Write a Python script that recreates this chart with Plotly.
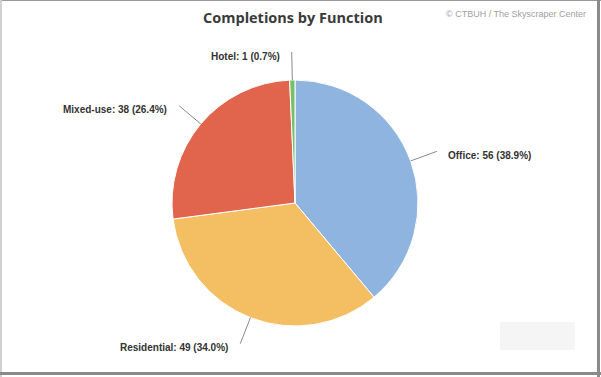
import math
import plotly.graph_objects as go

# ---- data ----
categories = ["Office", "Residential", "Mixed-use", "Hotel"]
counts = [56, 49, 38, 1]
colors = ["#8fb4e0", "#f4bf63", "#e0654c", "#78bf6a"]
title_text = "Completions by Function"
credit_text = "© CTBUH / The Skyscraper Center"

W, H = 601, 377
CX, CY, R = 295, 203, 123  # pie centre / radius in pixels


def px(x):
    return x / W


def py(y):
    return 1 - y / H


fig = go.Figure()
fig.add_trace(go.Pie(
    labels=categories,
    values=counts,
    sort=False,
    direction="clockwise",
    rotation=0,
    marker=dict(colors=colors, line=dict(color="#ffffff", width=1)),
    textinfo="none",
    hoverinfo="label+value+percent",
    showlegend=False,
    domain=dict(x=[px(CX - R), px(CX + R)], y=[py(CY + R), py(CY - R)]),
))

total = sum(counts)
shapes = []
annotations = []
cum = 0
for cat, v in zip(categories, counts):
    mid = (cum + v / 2) / total * 2 * math.pi
    cum += v
    sx, cx = math.sin(mid), math.cos(mid)
    x0, y0 = CX + R * sx, CY - R * cx
    d = R + 28
    x1, y1 = CX + d * sx, CY - d * cx
    shapes.append(dict(type="line", xref="paper", yref="paper",
                       x0=px(x0), y0=py(y0), x1=px(x1), y1=py(y1),
                       line=dict(color="#8a8a8a", width=1)))
    right = sx >= 0
    pct = v / total * 100
    annotations.append(dict(
        xref="paper", yref="paper",
        x=px(x1 + (9 if right else -10)), y=py(y1 + 4),
        xanchor="left" if right else "right", yanchor="middle",
        text=f"<b>{cat}: {v} ({pct:.1f}%)</b>", showarrow=False,
        font=dict(family="Liberation Sans, Arial, sans-serif", size=10, color="#333333"),
    ))

annotations.append(dict(
    xref="paper", yref="paper", x=px(293), y=py(18),
    xanchor="center", yanchor="middle", showarrow=False,
    text=f"<b>{title_text}</b>",
    font=dict(family="Open Sans, sans-serif", size=14.5, color="#3a3a3a"),
))
annotations.append(dict(
    xref="paper", yref="paper", x=px(588), y=py(14),
    xanchor="right", yanchor="middle", showarrow=False,
    text=credit_text,
    font=dict(family="Liberation Sans, Arial, sans-serif", size=9, color="#a0a0a0"),
))

# photo frame
shapes += [
    dict(type="line", xref="paper", yref="paper", x0=0, x1=1, y0=py(0.5), y1=py(0.5),
         line=dict(color="#9a9a9a", width=1)),
    dict(type="line", xref="paper", yref="paper", x0=px(1), x1=px(1), y0=0, y1=1,
         line=dict(color="#d0d0d0", width=2)),
    dict(type="line", xref="paper", yref="paper", x0=px(598.5), x1=px(598.5), y0=0, y1=1,
         line=dict(color="#8a8a8a", width=3)),
    dict(type="line", xref="paper", yref="paper", x0=0, x1=1, y0=py(373.5), y1=py(373.5),
         line=dict(color="#8a8a8a", width=3)),
    dict(type="rect", xref="paper", yref="paper", x0=px(500), x1=px(575), y0=py(350), y1=py(322),
         fillcolor="#f5f5f5", line=dict(width=0), layer="below"),
]

fig.update_layout(
    width=W, height=H,
    margin=dict(l=0, r=0, t=0, b=0),
    paper_bgcolor="#ffffff", plot_bgcolor="#ffffff",
    shapes=shapes, annotations=annotations,
)

fig.write_html(
    "out.html",
    config={"displayModeBar": False},
    post_script="document.body.style.margin='0';document.body.style.overflow='hidden';",
)
